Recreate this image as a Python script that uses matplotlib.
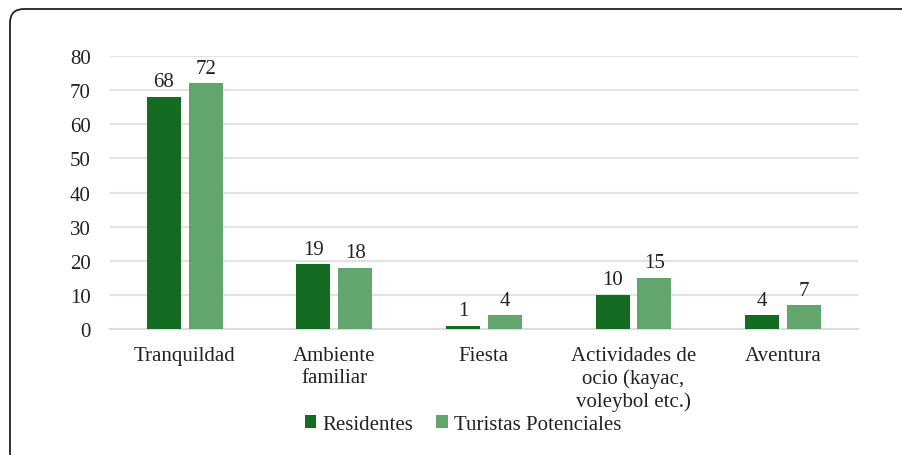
import matplotlib
matplotlib.use("Agg")
import matplotlib.pyplot as plt
import numpy as np
from matplotlib.patches import FancyBboxPatch

categories = ["Tranquildad", "Ambiente\nfamiliar", "Fiesta", "Actividades de\nocio (kayac,\nvoleybol etc.)", "Aventura"]
residentes = [68, 19, 1, 10, 4]
turistas = [72, 18, 4, 15, 7]
series_names = ["Residentes", "Turistas Potenciales"]
yticks = [0, 10, 20, 30, 40, 50, 60, 70, 80]

plt.rcParams['font.family'] = ['Liberation Serif', 'DejaVu Serif']
FS = 15

fig = plt.figure(figsize=(9.03, 4.56), dpi=100)
ax = fig.add_axes([0.1218, 0.2763, 0.8282, 0.5987])

dark = "#146c23"
light = "#63a66d"
x = np.arange(len(categories))
w = 0.227
off = 0.14
b1 = ax.bar(x - off, residentes, w, color=dark, label=series_names[0], zorder=3)
b2 = ax.bar(x + off, turistas, w, color=light, label=series_names[1], zorder=3)
for bars, vals in ((b1, residentes), (b2, turistas)):
    for r, v in zip(bars, vals):
        ax.text(r.get_x() + r.get_width() / 2, v + 1.6, str(v), ha="center", va="bottom",
                fontsize=FS, color="#222222")

ax.set_xlim(-0.5, len(categories) - 0.5)
ax.set_ylim(0, 80)
ax.set_yticks(yticks)
ax.set_xticks(x)
ax.set_xticklabels(categories, fontsize=FS, color="#222222", va="top", linespacing=1.2)
ax.tick_params(axis="y", labelsize=FS, colors="#222222", length=0, pad=14)
ax.tick_params(axis="x", length=0, pad=12.5)
ax.grid(axis="y", color="#e3e3e3", linewidth=1.5, zorder=0)
for s in ["top", "right", "left"]:
    ax.spines[s].set_visible(False)
ax.spines["bottom"].set_color("#dcdcdc")
ax.spines["bottom"].set_linewidth(1.5)

leg = fig.legend(loc="center", bbox_to_anchor=(0.513, 0.067), ncol=2, frameon=False,
                 fontsize=FS, handlelength=0.55, handleheight=0.55, handletextpad=0.3,
                 columnspacing=1.1)
for t in leg.get_texts():
    t.set_color("#222222")

W, H = 903, 456
box = FancyBboxPatch((10 / W, -0.2), 1.2, 1 - 10 / H + 0.2,
                     boxstyle="round,pad=0,rounding_size=%f" % (14 / W),
                     transform=fig.transFigure, fill=False, edgecolor="#222222",
                     linewidth=1.3, mutation_aspect=W / H)
fig.patches.append(box)

fig.savefig("out.png", dpi=100)
